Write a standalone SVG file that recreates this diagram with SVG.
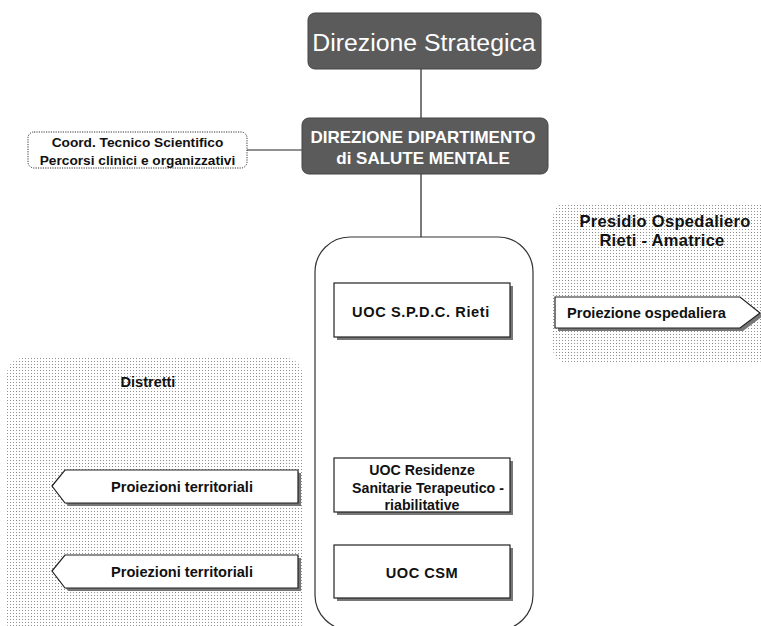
<svg xmlns="http://www.w3.org/2000/svg" width="761" height="626" viewBox="0 0 761 626">
<defs>
<pattern id="dots" width="3" height="3" patternUnits="userSpaceOnUse">
<rect width="3" height="3" fill="#ffffff"/>
<rect x="1" y="1" width="1" height="1" fill="#8f8f8f"/>
</pattern>
<style>
.t{font-family:"Liberation Sans",Arial,sans-serif;font-weight:bold;fill:#111;text-anchor:middle}
.w{font-family:"Liberation Sans",Arial,sans-serif;fill:#fff;text-anchor:middle}
.box{fill:#fff;stroke:#222;stroke-width:1.2}
.sh{fill:#777}
.dark{fill:#5b5b5b;stroke:#444;stroke-width:1}
.ln{stroke:#222;stroke-width:1.2;fill:none}
</style>
</defs>
<rect width="761" height="626" fill="#fff"/>

<g id="presidio">
<rect x="553" y="203" width="215" height="160" rx="14" fill="url(#dots)"/>
<text class="t" x="665" y="227" font-size="16.5" letter-spacing="0.3">Presidio Ospedaliero</text>
<text class="t" x="662" y="246" font-size="16.5" letter-spacing="0.3">Rieti - Amatrice</text>
</g>
<g id="proiezione-ospedaliera">
<polygon class="sh" points="558,300 743,300 763,316 743,331 558,331"/>
<polygon class="box" points="555,297 740,297 760,313 740,328 555,328"/>
<text class="t" x="567" y="318" font-size="14.6" style="text-anchor:start">Proiezione ospedaliera</text>
</g>

<g id="distretti">
<rect x="7" y="358" width="295" height="280" rx="16" fill="url(#dots)"/>
<text class="t" x="148" y="387" font-size="14.5">Distretti</text>
</g>
<g id="proiezioni-territoriali-1">
<polygon class="sh" points="55,489 68,473 301,473 301,506 68,506"/>
<polygon class="box" points="52,486 65,470 298,470 298,503 65,503"/>
<text class="t" x="182" y="492" font-size="14.6">Proiezioni territoriali</text>
</g>
<g id="proiezioni-territoriali-2">
<polygon class="sh" points="55,574 68,558 301,558 301,591 68,591"/>
<polygon class="box" points="52,571 65,555 298,555 298,588 65,588"/>
<text class="t" x="182" y="577" font-size="14.6">Proiezioni territoriali</text>
</g>

<g id="connectors">
<line class="ln" x1="421" y1="69" x2="421" y2="118"/>
<line class="ln" x1="421" y1="174" x2="421" y2="237"/>
<line class="ln" x1="247" y1="150" x2="302" y2="150"/>
</g>

<g id="direzione-strategica">
<rect class="dark" x="308" y="13" width="233" height="56" rx="7"/>
<text class="w" x="424" y="51" font-size="24.8">Direzione Strategica</text>
</g>
<g id="direzione-dipartimento">
<rect class="dark" x="302" y="118" width="246" height="56" rx="7"/>
<text class="w" x="423" y="143" font-size="17" font-weight="bold">DIREZIONE DIPARTIMENTO</text>
<text class="w" x="423" y="164" font-size="17" font-weight="bold">di SALUTE MENTALE</text>
</g>
<g id="coord">
<rect x="28" y="132" width="219" height="36" rx="6" fill="#fff" stroke="#333" stroke-width="1" stroke-dasharray="1.2,1.2"/>
<text class="t" x="137.5" y="147" font-size="13.7">Coord. Tecnico Scientifico</text>
<text class="t" x="137.5" y="165" font-size="13.7">Percorsi clinici e organizzativi</text>
</g>

<g id="container">
<rect x="315" y="237" width="218" height="393" rx="35" fill="#fff" stroke="#333" stroke-width="1.2"/>
</g>
<g id="uoc-spdc">
<rect class="sh" x="337" y="286" width="176" height="54"/>
<rect class="box" x="334" y="283" width="176" height="54"/>
<text class="t" x="421" y="317" font-size="14.6" letter-spacing="0.6">UOC S.P.D.C. Rieti</text>
</g>
<g id="uoc-residenze">
<rect class="sh" x="337" y="461" width="176" height="54"/>
<rect class="box" x="334" y="458" width="176" height="54"/>
<text class="t" x="422" y="475" font-size="14.2">UOC Residenze</text>
<text class="t" x="428" y="493" font-size="14.2">Sanitarie Terapeutico -</text>
<text class="t" x="422" y="510" font-size="14.2">riabilitative</text>
</g>
<g id="uoc-csm">
<rect class="sh" x="337" y="548" width="176" height="53"/>
<rect class="box" x="334" y="545" width="176" height="53"/>
<text class="t" x="422" y="578" font-size="14.6" letter-spacing="0.5">UOC CSM</text>
</g>
</svg>
